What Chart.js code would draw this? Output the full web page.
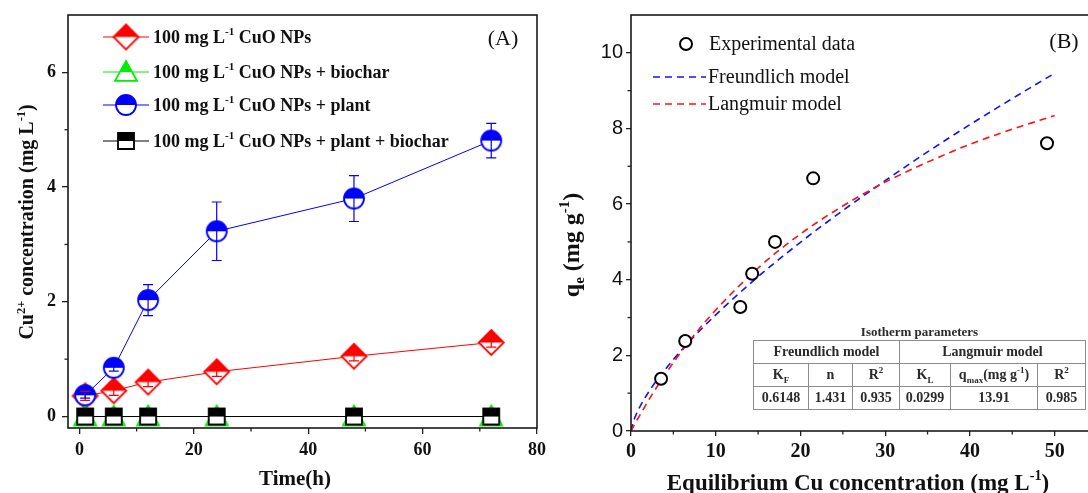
<!DOCTYPE html>
<html><head><meta charset="utf-8">
<script src="https://cdn.jsdelivr.net/npm/chart.js@4.4.0/dist/chart.umd.min.js"></script>
<style>
html,body{margin:0;padding:0;background:#fff;width:1088px;height:493px;overflow:hidden;position:relative;}
#ca{position:absolute;left:0;top:0;}
#cb{position:absolute;left:545px;top:0;}
#tbl{position:absolute;left:753px;top:323px;width:333px;font-family:"Liberation Serif","Times New Roman",serif;font-weight:bold;color:#2a2a2a;}
#tbl .tt{text-align:center;font-size:13px;line-height:17px;height:17px;}
#tbl table{border-collapse:collapse;table-layout:fixed;width:332px;background:#fff;}
#tbl td{border:1px solid #8c8c8c;padding:0;text-align:center;font-size:14px;height:22px;line-height:22px;white-space:nowrap;overflow:hidden;}
#tbl sub,#tbl sup{font-size:9px;line-height:0;}
</style></head><body>
<canvas id="ca" width="549" height="493"></canvas>
<canvas id="cb" width="560" height="493"></canvas>
<div id="tbl"></div>
<script>
// ---------------- DATA ----------------
// Panel A
const timeH = [1, 6, 12, 24, 48, 72];
const cuoNPs = [0.36, 0.45, 0.60, 0.78, 1.05, 1.29];
const cuoNPsErr = [0.08, 0.08, 0.08, 0.08, 0.08, 0.08];
const cuoBiochar = [0, 0, 0, 0, 0, 0];
const cuoPlant = [0.37, 0.85, 2.03, 3.23, 3.80, 4.81];
const cuoPlantErr = [0.05, 0.06, 0.27, 0.51, 0.40, 0.30];
const cuoPlantBiochar = [0, 0, 0, 0, 0, 0];
const seriesLabelsA = ['100 mg L|-1| CuO NPs', '100 mg L|-1| CuO NPs + biochar', '100 mg L|-1| CuO NPs + plant', '100 mg L|-1| CuO NPs + plant + biochar'];
const timeTicks = [0, 20, 40, 60, 80];
const timeMinor = [10, 30, 50, 70];
const concTicks = [0, 2, 4, 6];
const concMinor = [1, 3, 5];
// Panel B
const ceExp = [3.55, 6.4, 12.9, 14.3, 17.0, 21.5, 49.1];
const qeExp = [1.38, 2.38, 3.28, 4.16, 5.00, 6.68, 7.61];
const ceModel = [0, 0.25, 0.5, 1, 2.5, 5, 7.5, 10, 15, 20, 25, 30, 35, 40, 45, 50];
const qeFreundlich = [0, 0.23, 0.38, 0.62, 1.17, 1.89, 2.51, 3.07, 4.08, 4.99, 5.83, 6.62, 7.38, 8.10, 8.79, 9.46];
const qeLangmuir = [0, 0.10, 0.21, 0.40, 0.97, 1.81, 2.55, 3.20, 4.31, 5.21, 5.95, 6.58, 7.11, 7.58, 7.98, 8.34];
const ceTicks = [0, 10, 20, 30, 40, 50];
const ceMinor = [5, 15, 25, 35, 45];
const qeTicks = [0, 2, 4, 6, 8, 10];
const qeMinor = [1, 3, 5, 7, 9];
const tableHeader = ['Freundlich model', 'Langmuir model'];
const tableCols = ['K<sub>F</sub>', 'n', 'R<sup>2</sup>', 'K<sub>L</sub>', 'q<sub>max</sub>(mg g<sup>-1</sup>)', 'R<sup>2</sup>'];
const freundlichParams = ['0.6148', '1.431', '0.935'];
const langmuirParams = ['0.0299', '13.91', '0.985'];

// ---------------- HELPERS ----------------
const SERIF = '"Liberation Serif", "Times New Roman", serif';
const SANS = '"Liberation Sans", Arial, sans-serif';

function makeMarker(shape, color, size) {
  const pad = 2, W = Math.ceil(size + pad * 2);
  const c = document.createElement('canvas'); c.width = W; c.height = W;
  const g = c.getContext('2d'); const m = W / 2, h = size / 2;
  function path() {
    g.beginPath();
    if (shape === 'diamond') { g.moveTo(m, m - h); g.lineTo(m + h, m); g.lineTo(m, m + h); g.lineTo(m - h, m); g.closePath(); }
    else if (shape === 'circle') { g.arc(m, m, h - 1, 0, Math.PI * 2); }
    else if (shape === 'square') { g.rect(m - h + 1, m - h + 1, size - 2, size - 2); }
    else { g.moveTo(m, m - h); g.lineTo(m + h, m + h * 0.8); g.lineTo(m - h, m + h * 0.8); g.closePath(); }
  }
  path(); g.fillStyle = '#fff'; g.fill();
  g.save(); path(); g.clip(); g.fillStyle = color; g.fillRect(0, 0, W, m); g.restore();
  path(); g.strokeStyle = color; g.lineWidth = 1.8; g.stroke();
  return c;
}
const mkDiamond = makeMarker('diamond', '#ff0000', 25);
const mkTri = makeMarker('triangle', '#00ee00', 22);
const mkCircle = makeMarker('circle', '#0000ff', 22);
const mkSquare = makeMarker('square', '#000000', 18);
const markersA = [mkDiamond, mkTri, mkCircle, mkSquare];
const colorsA = ['#ff0000', '#00ee00', '#0000ff', '#000000'];

function parseRich(str) {
  const out = []; const segs = str.split('|');
  segs.forEach((s, i) => { if (s) out.push({ t: s, s: i % 2 ? 'sup' : null }); });
  return out;
}
function drawRich(ctx, parts, x, y, size, weight, family, align) {
  const f = s => `${weight} ${s}px ${family}`;
  const ws = []; let total = 0;
  parts.forEach(p => { const s = p.s ? size * 0.62 : size; ctx.font = f(s); const w = ctx.measureText(p.t).width; ws.push(w); total += w; });
  let cx = align === 'center' ? x - total / 2 : x;
  ctx.textAlign = 'left'; ctx.textBaseline = 'alphabetic';
  parts.forEach((p, i) => {
    const s = p.s ? size * 0.62 : size; ctx.font = f(s);
    let dy = 0; if (p.s === 'sup') dy = -size * 0.42; if (p.s === 'sub') dy = size * 0.22;
    ctx.fillText(p.t, cx, y + dy); cx += ws[i];
  });
  return total;
}
function tickBuilder(list) { return s => { s.ticks = list.map(v => ({ value: v })); }; }

function decoPlugin(cfg) {
  return {
    id: 'deco' + cfg.name,
    afterDraw(chart) {
      const ctx = chart.ctx, a = chart.chartArea;
      const xs = chart.scales.x, ys = chart.scales.y;
      ctx.save();
      ctx.strokeStyle = '#1a1a1a'; ctx.lineWidth = 1.6;
      ctx.strokeRect(a.left, a.top, a.right - a.left, a.bottom - a.top);
      ctx.lineWidth = 1.3; ctx.strokeStyle = '#222';
      cfg.xMinor.forEach(v => { const px = xs.getPixelForValue(v); ctx.beginPath(); ctx.moveTo(px, a.bottom); ctx.lineTo(px, a.bottom + 3.5); ctx.stroke(); });
      cfg.yMinor.forEach(v => { const py = ys.getPixelForValue(v); ctx.beginPath(); ctx.moveTo(a.left, py); ctx.lineTo(a.left - 3.5, py); ctx.stroke(); });
      cfg.extra(ctx, chart);
      ctx.restore();
    }
  };
}
function errPlugin(specs) {
  return {
    id: 'errbars',
    afterDatasetsDraw(chart) {
      const ctx = chart.ctx, ys = chart.scales.y;
      ctx.save();
      specs.forEach(sp => {
        const meta = chart.getDatasetMeta(sp.index);
        ctx.strokeStyle = sp.color; ctx.lineWidth = 1.2;
        meta.data.forEach((pt, i) => {
          const v = sp.values[i], e = sp.err[i];
          const y1 = ys.getPixelForValue(v + e), y2 = ys.getPixelForValue(v - e), x = pt.x;
          ctx.beginPath(); ctx.moveTo(x, y1); ctx.lineTo(x, y2);
          ctx.moveTo(x - 5, y1); ctx.lineTo(x + 5, y1);
          ctx.moveTo(x - 5, y2); ctx.lineTo(x + 5, y2); ctx.stroke();
        });
      });
      ctx.restore();
    }
  };
}

// ---------------- CHART A ----------------
const seriesA = [cuoNPs, cuoBiochar, cuoPlant, cuoPlantBiochar];
const ordersA = [3, 2, 1, 0];
new Chart(document.getElementById('ca'), {
  type: 'line',
  data: {
    datasets: seriesA.map((vals, k) => ({
      label: seriesLabelsA[k].replace(/\|/g, ''),
      data: timeH.map((t, i) => ({ x: t, y: vals[i] })),
      borderColor: colorsA[k], backgroundColor: colorsA[k], borderWidth: 1,
      pointStyle: markersA[k], pointRadius: 11, order: ordersA[k], tension: 0
    }))
  },
  options: {
    responsive: false, animation: false, events: [],
    layout: { padding: { left: 0, top: 15, right: 4, bottom: 0 } },
    plugins: { legend: { display: false }, tooltip: { enabled: false } },
    scales: {
      x: {
        type: 'linear', min: -2, max: 80,
        afterBuildTicks: tickBuilder(timeTicks),
        afterFit: s => { s.height = 65; s.paddingLeft = 0; s.paddingRight = 0; },
        ticks: { font: { family: SERIF, size: 18, weight: 'bold' }, color: '#111', padding: 6, maxRotation: 0, autoSkip: false },
        grid: { drawOnChartArea: false, tickLength: 6, color: '#222', lineWidth: 1.3 },
        border: { display: false }
      },
      y: {
        type: 'linear', min: -0.2, max: 7,
        afterBuildTicks: tickBuilder(concTicks),
        afterFit: s => { s.width = 68; s.paddingTop = 0; s.paddingBottom = 0; },
        ticks: { font: { family: SERIF, size: 18, weight: 'bold' }, color: '#111', padding: 6, autoSkip: false },
        grid: { drawOnChartArea: false, tickLength: 6, color: '#222', lineWidth: 1.3 },
        border: { display: false }
      }
    }
  },
  plugins: [
    errPlugin([{ index: 0, values: cuoNPs, err: cuoNPsErr, color: '#ff0000' }, { index: 2, values: cuoPlant, err: cuoPlantErr, color: '#0000ff' }]),
    decoPlugin({
      name: 'A', xMinor: timeMinor, yMinor: concMinor,
      extra(ctx) {
        const rows = [37, 72, 105, 141];
        rows.forEach((ry, k) => {
          ctx.strokeStyle = colorsA[k]; ctx.lineWidth = 1;
          ctx.beginPath(); ctx.moveTo(103, ry); ctx.lineTo(149, ry); ctx.stroke();
          const mk = markersA[k]; ctx.drawImage(mk, 126 - mk.width / 2, ry - mk.height / 2);
          ctx.fillStyle = '#111';
          drawRich(ctx, parseRich(seriesLabelsA[k]), 153, ry + 6, 18, 'bold', SERIF, 'left');
        });
        ctx.fillStyle = '#111';
        drawRich(ctx, [{ t: '(A)' }], 503, 45, 22, 'normal', SERIF, 'center');
        drawRich(ctx, [{ t: 'Time(h)' }], 295, 485, 21, 'bold', SERIF, 'center');
        ctx.save(); ctx.translate(26, 222); ctx.rotate(-Math.PI / 2);
        drawRich(ctx, [{ t: 'Cu' }, { t: '2+', s: 'sup' }, { t: ' concentration (mg L' }, { t: '-1', s: 'sup' }, { t: ')' }], 0, 7, 20, 'bold', SERIF, 'center');
        ctx.restore();
      }
    })
  ]
});

// ---------------- CHART B ----------------
new Chart(document.getElementById('cb'), {
  type: 'line',
  data: {
    datasets: [
      { label: 'Experimental data', data: ceExp.map((c, i) => ({ x: c, y: qeExp[i] })), showLine: false,
        pointStyle: 'circle', pointRadius: 6, pointBorderWidth: 2, pointBorderColor: '#000', pointBackgroundColor: '#fff', order: 0 },
      { label: 'Freundlich model', data: ceModel.map((c, i) => ({ x: c, y: qeFreundlich[i] })), borderColor: '#1010ff', borderWidth: 1.6,
        borderDash: [7, 5], pointRadius: 0, cubicInterpolationMode: 'monotone', order: 2 },
      { label: 'Langmuir model', data: ceModel.map((c, i) => ({ x: c, y: qeLangmuir[i] })), borderColor: '#ff1010', borderWidth: 1.6,
        borderDash: [7, 5], pointRadius: 0, cubicInterpolationMode: 'monotone', order: 1 }
    ]
  },
  options: {
    responsive: false, animation: false, events: [],
    layout: { padding: { left: 0, top: 15, right: 8, bottom: 0 } },
    plugins: { legend: { display: false }, tooltip: { enabled: false } },
    scales: {
      x: {
        type: 'linear', min: 0, max: 55,
        afterBuildTicks: tickBuilder(ceTicks),
        afterFit: s => { s.height = 62; s.paddingLeft = 0; s.paddingRight = 0; },
        ticks: { font: { family: SERIF, size: 20, weight: 'bold' }, color: '#111', padding: 4, maxRotation: 0, autoSkip: false },
        grid: { drawOnChartArea: false, tickLength: 5, color: '#222', lineWidth: 1.3 },
        border: { display: false }
      },
      y: {
        type: 'linear', min: 0, max: 11,
        afterBuildTicks: tickBuilder(qeTicks),
        afterFit: s => { s.width = 86; s.paddingTop = 0; s.paddingBottom = 0; },
        ticks: { font: { family: SANS, size: 20, weight: 'normal' }, color: '#111', padding: 3, autoSkip: false },
        grid: { drawOnChartArea: false, tickLength: 5, color: '#222', lineWidth: 1.3 },
        border: { display: false }
      }
    }
  },
  plugins: [
    decoPlugin({
      name: 'B', xMinor: ceMinor, yMinor: qeMinor,
      extra(ctx) {
        ctx.fillStyle = '#111';
        ctx.beginPath(); ctx.arc(141, 44, 6, 0, Math.PI * 2); ctx.lineWidth = 2; ctx.strokeStyle = '#000'; ctx.stroke();
        drawRich(ctx, [{ t: 'Experimental data' }], 164, 50, 20, 'normal', SERIF, 'left');
        [[77, '#1010ff', 'Freundlich model'], [104, '#ff1010', 'Langmuir model']].forEach(([ry, col, txt]) => {
          ctx.save(); ctx.setLineDash([7, 5]); ctx.strokeStyle = col; ctx.lineWidth = 1.6;
          ctx.beginPath(); ctx.moveTo(108, ry); ctx.lineTo(161, ry); ctx.stroke(); ctx.restore();
          drawRich(ctx, [{ t: txt }], 163, ry + 6, 20, 'normal', SERIF, 'left');
        });
        drawRich(ctx, [{ t: '(B)' }], 519, 48, 22, 'normal', SERIF, 'center');
        drawRich(ctx, [{ t: 'Equilibrium Cu concentration (mg L' }, { t: '-1', s: 'sup' }, { t: ')' }], 313, 490, 23, 'bold', SERIF, 'center');
        ctx.save(); ctx.translate(26, 245); ctx.rotate(-Math.PI / 2);
        drawRich(ctx, [{ t: 'q' }, { t: 'e', s: 'sub' }, { t: ' (mg g' }, { t: '-1', s: 'sup' }, { t: ')' }], 0, 8, 24, 'bold', SERIF, 'center');
        ctx.restore();
      }
    })
  ]
});

// ---------------- TABLE ----------------
(function () {
  const t = document.getElementById('tbl');
  let h = '<div class="tt">Isotherm parameters</div><table><colgroup>';
  [55, 44, 47, 51, 87, 48].forEach(w => h += `<col style="width:${w}px">`);
  h += '</colgroup>';
  h += `<tr><td colspan="3">${tableHeader[0]}</td><td colspan="3">${tableHeader[1]}</td></tr>`;
  h += '<tr>' + tableCols.map(c => `<td>${c}</td>`).join('') + '</tr>';
  h += '<tr>' + freundlichParams.concat(langmuirParams).map(c => `<td>${c}</td>`).join('') + '</tr>';
  h += '</table>';
  t.innerHTML = h;
})();
</script>
</body></html>
